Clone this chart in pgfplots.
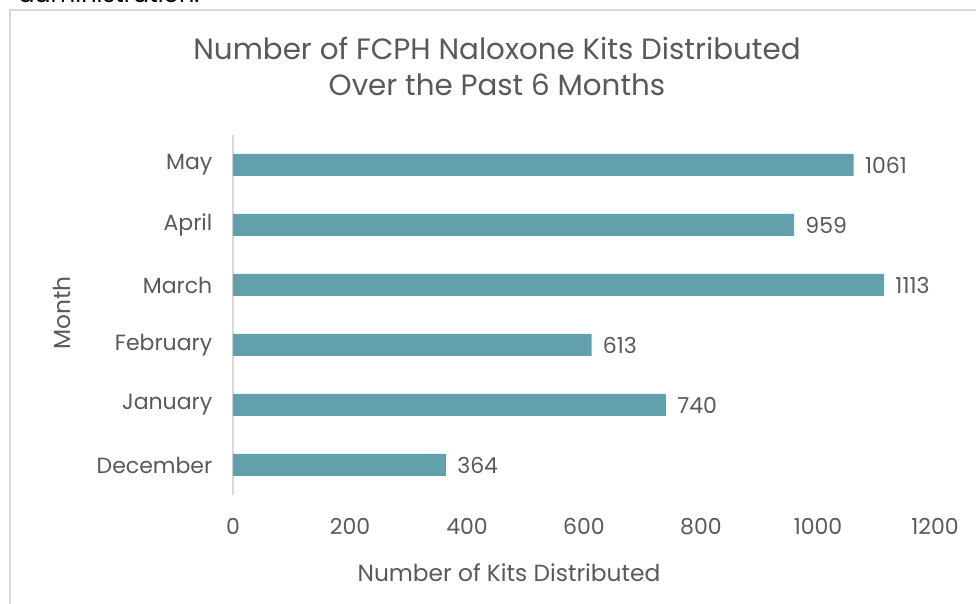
\documentclass[border=0pt]{standalone}
\usepackage{pgfplots}
\pgfplotsset{compat=1.18}
\usepackage{fontspec}
\setmainfont{Poppins}
\definecolor{barc}{HTML}{62A0AC}
\definecolor{txt}{HTML}{595959}
\definecolor{axc}{HTML}{D9D9D9}
\begin{document}
\begin{tikzpicture}[x=0.75pt,y=0.75pt]
\path[use as bounding box] (0,0) rectangle (976,604);
\begin{scope}
\clip (0,594) rectangle (400,604);
\node[anchor=base west, inner sep=0, font=\fontsize{18}{20}\selectfont, text=black] at (18,601) {administration.};
\end{scope}
\draw[axc, line width=1.2pt] (10,-5) -- (10,594) -- (985,594);
\begin{axis}[
  at={(174.75pt,81.75pt)}, anchor=south west,
  scale only axis, width=526.5pt, height=270pt,
  xmin=0, xmax=1200, ymin=-0.5, ymax=5.5,
  xbar, bar width=16.5pt,
  axis lines*=left,
  x axis line style={draw=none},
  y axis line style={axc, line width=1.5pt},
  major tick length=0pt,
  xtick={0,200,...,1200},
  ytick={0,...,5},
  yticklabels={December,January,February,March,April,May},
  /pgf/number format/assume math mode=true,
  /pgf/number format/1000 sep={},
  tick label style={txt, font=\fontsize{16.5}{18}\selectfont},
  xticklabel style={yshift=-14pt},
  yticklabel style={xshift=-12pt},
  nodes near coords,
  nodes near coords style={txt, font=\fontsize{16.5}{18}\selectfont, xshift=5pt},
  clip=false,
]
\addplot[fill=barc, draw=none] coordinates {(364,0) (740,1) (613,2) (1113,3) (959,4) (1061,5)};
\end{axis}
\node[txt, font=\fontsize{22}{27}\selectfont, align=center] at (497,538) {Number of FCPH Naloxone Kits Distributed\\Over the Past 6 Months};
\node[txt, font=\fontsize{17.5}{19}\selectfont] at (509,31) {Number of Kits Distributed};
\node[txt, font=\fontsize{17.5}{19}\selectfont, rotate=90] at (62,291) {Month};
\end{tikzpicture}
\end{document}
